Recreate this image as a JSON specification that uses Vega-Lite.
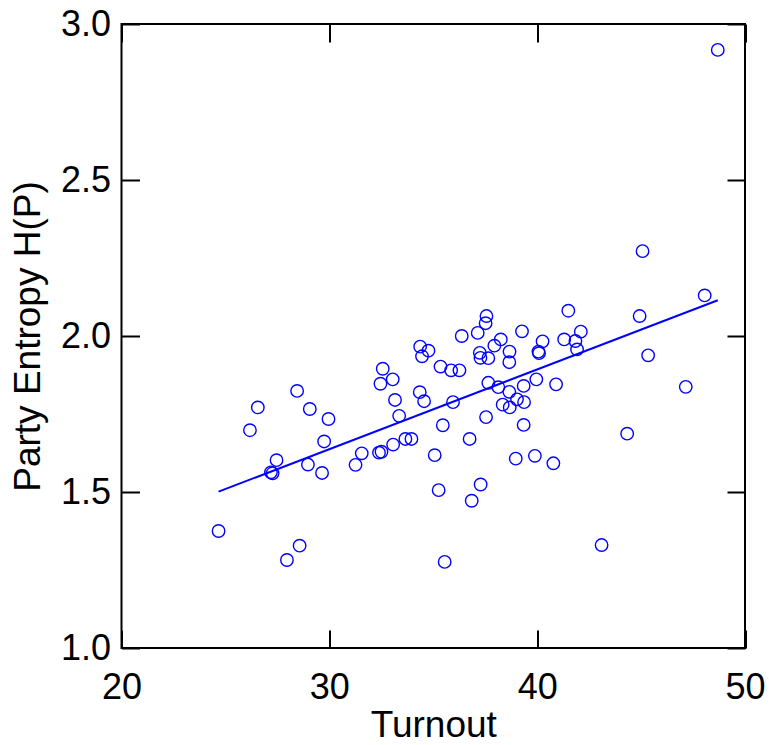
{
  "$schema": "https://vega.github.io/schema/vega-lite/v6.json",
  "width": 623.5,
  "height": 624,
  "autosize": {"type": "none"},
  "padding": {"left": 121.5, "top": 24, "right": 24, "bottom": 97},
  "config": {
    "font": "Liberation Sans",
    "view": {"stroke": "black", "strokeWidth": 2},
    "axis": {"grid": false, "domain": false, "tickColor": "black", "tickWidth": 2, "tickSize": -18,
      "labelFont": "Liberation Sans", "labelFontSize": 36, "labelColor": "black",
      "titleFont": "Liberation Sans", "titleFontSize": 37, "titleFontWeight": "normal", "titleColor": "black"}
  },
  "data": {"values": [
    {"x": 24.67, "y": 1.375}, {"x": 26.18, "y": 1.698}, {"x": 26.56, "y": 1.771}, {"x": 27.19, "y": 1.563},
    {"x": 27.27, "y": 1.560}, {"x": 27.46, "y": 1.602}, {"x": 28.45, "y": 1.824}, {"x": 28.57, "y": 1.328},
    {"x": 27.96, "y": 1.282}, {"x": 28.97, "y": 1.588}, {"x": 29.06, "y": 1.766}, {"x": 29.65, "y": 1.561},
    {"x": 29.75, "y": 1.662}, {"x": 29.96, "y": 1.734}, {"x": 31.26, "y": 1.587}, {"x": 31.56, "y": 1.624},
    {"x": 32.39, "y": 1.626}, {"x": 32.51, "y": 1.629}, {"x": 32.46, "y": 1.847}, {"x": 32.57, "y": 1.895},
    {"x": 33.05, "y": 1.861}, {"x": 33.16, "y": 1.795}, {"x": 33.36, "y": 1.744}, {"x": 33.07, "y": 1.652},
    {"x": 33.66, "y": 1.670}, {"x": 33.95, "y": 1.670}, {"x": 34.37, "y": 1.966}, {"x": 34.77, "y": 1.953},
    {"x": 34.46, "y": 1.935}, {"x": 34.35, "y": 1.820}, {"x": 34.56, "y": 1.791}, {"x": 35.07, "y": 1.618},
    {"x": 35.46, "y": 1.714}, {"x": 35.26, "y": 1.506}, {"x": 35.55, "y": 1.276}, {"x": 35.35, "y": 1.902},
    {"x": 35.86, "y": 1.890}, {"x": 36.26, "y": 1.890}, {"x": 35.95, "y": 1.788}, {"x": 36.37, "y": 2.000},
    {"x": 36.75, "y": 1.670}, {"x": 37.28, "y": 1.524}, {"x": 36.85, "y": 1.472}, {"x": 37.14, "y": 2.010},
    {"x": 37.24, "y": 1.946}, {"x": 37.27, "y": 1.930}, {"x": 37.52, "y": 2.041}, {"x": 37.56, "y": 2.064},
    {"x": 37.65, "y": 1.929}, {"x": 37.65, "y": 1.850}, {"x": 37.54, "y": 1.740}, {"x": 37.94, "y": 1.969},
    {"x": 38.13, "y": 1.836}, {"x": 38.34, "y": 1.780}, {"x": 38.25, "y": 1.989}, {"x": 38.67, "y": 1.950},
    {"x": 38.66, "y": 1.916}, {"x": 38.66, "y": 1.821}, {"x": 38.68, "y": 1.771}, {"x": 39.03, "y": 1.797},
    {"x": 39.27, "y": 2.015}, {"x": 39.35, "y": 1.840}, {"x": 39.37, "y": 1.788}, {"x": 39.35, "y": 1.715},
    {"x": 38.97, "y": 1.607}, {"x": 39.89, "y": 1.616}, {"x": 39.96, "y": 1.861}, {"x": 40.06, "y": 1.950},
    {"x": 40.09, "y": 1.945}, {"x": 40.26, "y": 1.983}, {"x": 40.78, "y": 1.592}, {"x": 40.91, "y": 1.845},
    {"x": 41.30, "y": 1.989}, {"x": 41.50, "y": 2.081}, {"x": 41.84, "y": 1.984}, {"x": 41.92, "y": 1.957},
    {"x": 42.10, "y": 2.014}, {"x": 43.10, "y": 1.330}, {"x": 44.33, "y": 1.687}, {"x": 44.93, "y": 2.064},
    {"x": 45.34, "y": 1.938}, {"x": 47.15, "y": 1.837}, {"x": 48.06, "y": 2.130}, {"x": 48.69, "y": 2.917},
    {"x": 45.07, "y": 2.272}
  ]},
  "resolve": {"axis": {"x": "independent", "y": "independent"}},
  "layer": [
    {
      "mark": {"type": "point", "shape": "circle", "filled": false, "stroke": "#0000ff", "strokeWidth": 1.4, "size": 155, "opacity": 1},
      "encoding": {
        "x": {"field": "x", "type": "quantitative", "scale": {"domain": [20, 50], "nice": false, "zero": false},
          "axis": {"orient": "bottom", "title": "Turnout", "values": [20, 30, 40, 50], "labelPadding": 40, "titlePadding": 2, "labelFlush": false}},
        "y": {"field": "y", "type": "quantitative", "scale": {"domain": [1, 3], "nice": false, "zero": false},
          "axis": {"orient": "left", "title": "Party Entropy H(P)", "values": [1, 1.5, 2, 2.5, 3], "format": ".1f", "labelPadding": 29, "titlePadding": 13, "labelFlush": false}}
      }
    },
    {
      "transform": [{"regression": "y", "on": "x"}],
      "mark": {"type": "line", "color": "#0000ff", "strokeWidth": 2},
      "encoding": {
        "x": {"field": "x", "type": "quantitative", "axis": {"orient": "top", "title": null, "labels": false, "values": [20, 30, 40, 50]}},
        "y": {"field": "y", "type": "quantitative", "axis": {"orient": "right", "title": null, "labels": false, "values": [1, 1.5, 2, 2.5, 3]}}
      }
    }
  ]
}
